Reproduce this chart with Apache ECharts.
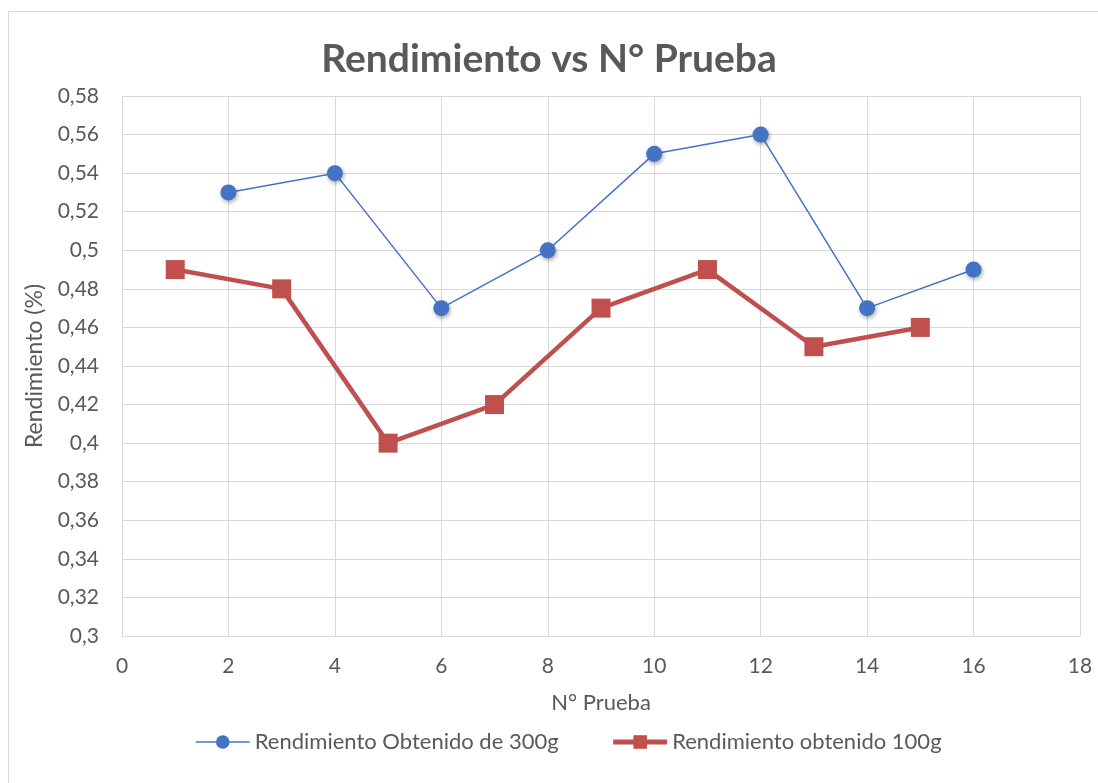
<!DOCTYPE html>
<html><head><meta charset="utf-8">
<script src="https://cdn.jsdelivr.net/npm/echarts@6/dist/echarts.min.js"></script>
<style>html,body{margin:0;padding:0;background:#fff}#frame{position:absolute;left:8px;top:11px;width:1100px;height:790px;border:1px solid #d9d9d9;box-sizing:border-box}#c{position:absolute;left:0;top:0;width:1098px;height:783px}</style>
</head><body><div id="frame"></div><div id="c"></div>
<script>
const title = 'Rendimiento vs N° Prueba';
const xName = 'N° Prueba';
const yName = 'Rendimiento (%)';
const s1Name = 'Rendimiento Obtenido de 300g';
const s1X = [2, 4, 6, 8, 10, 12, 14, 16];
const s1Y = [0.53, 0.54, 0.47, 0.50, 0.55, 0.56, 0.47, 0.49];
const s2Name = 'Rendimiento obtenido 100g';
const s2X = [1, 3, 5, 7, 9, 11, 13, 15];
const s2Y = [0.49, 0.48, 0.40, 0.42, 0.47, 0.49, 0.45, 0.46];

const font = 'Lato, "Open Sans", sans-serif';
const chart = echarts.init(document.getElementById('c'), null, {renderer: 'canvas'});
const fmt = v => String(Math.round(v * 100) / 100).replace('.', ',');
chart.setOption({
  animation: false,
  title: {text: title, left: 'center', top: 35, textStyle: {fontFamily: font, fontSize: 39, fontWeight: 'bold', color: '#595959'}},
  grid: {left: 122, right: 18, top: 96, bottom: 147},
  legend: {
    bottom: 25, left: 190, itemGap: 52, itemWidth: 54, itemHeight: 17,
    textStyle: {fontFamily: font, fontSize: 22, color: '#595959'},
    data: [
      {name: s1Name, lineStyle: {width: 1.5}},
      {name: s2Name, lineStyle: {width: 5}}
    ]
  },
  xAxis: {
    type: 'value', min: 0, max: 18, interval: 2,
    name: xName, nameLocation: 'middle', nameGap: 56,
    nameTextStyle: {fontFamily: font, fontSize: 22, color: '#595959'},
    axisLine: {show: true, lineStyle: {color: '#d9d9d9'}},
    axisTick: {show: false},
    axisLabel: {fontFamily: font, fontSize: 21, color: '#595959', margin: 20},
    splitLine: {show: true, lineStyle: {color: '#d9d9d9', width: 1}}
  },
  yAxis: {
    type: 'value', min: 0.3, max: 0.58, interval: 0.02,
    name: yName, nameLocation: 'middle', nameGap: 76, nameRotate: 90,
    nameTextStyle: {fontFamily: font, fontSize: 23, color: '#595959'},
    axisLine: {show: false}, axisTick: {show: false},
    axisLabel: {fontFamily: font, fontSize: 21, color: '#595959', margin: 23, formatter: fmt},
    splitLine: {show: true, lineStyle: {color: '#d9d9d9', width: 1}}
  },
  series: [
    {
      name: s1Name, type: 'line', data: s1X.map((x, i) => [x, s1Y[i]]),
      symbol: 'circle', symbolSize: 16,
      lineStyle: {color: '#4472C4', width: 1.5},
      itemStyle: {color: '#4472C4', shadowColor: 'rgba(0,0,0,0.35)', shadowBlur: 4, shadowOffsetX: 1, shadowOffsetY: 2},
      z: 3
    },
    {
      name: s2Name, type: 'line', data: s2X.map((x, i) => [x, s2Y[i]]),
      symbol: 'rect', symbolSize: 19,
      lineStyle: {color: '#C0504D', width: 4.5},
      itemStyle: {color: '#C0504D'},
      z: 2
    }
  ]
});
</script></body></html>
